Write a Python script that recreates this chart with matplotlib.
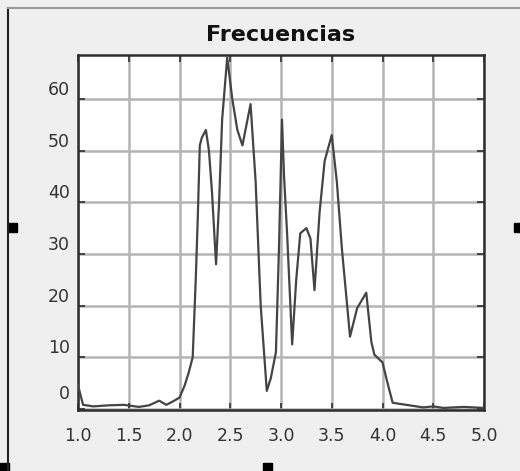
"""
Curva de frecuencias (estilo figura MATLAB) -> out.png
"""

import matplotlib

matplotlib.use("Agg")
import matplotlib.pyplot as plt
from matplotlib.patches import Rectangle
from matplotlib.lines import Line2D
from matplotlib.transforms import ScaledTranslation

# valores
x_vals = [1.00, 1.05, 1.15, 1.30, 1.45, 1.60, 1.70, 1.80, 1.87, 1.93,
          2.00, 2.05, 2.09, 2.13, 2.16, 2.18, 2.20, 2.22, 2.26, 2.29,
          2.32, 2.36, 2.39, 2.42, 2.47, 2.52, 2.57, 2.62, 2.70, 2.75,
          2.80, 2.86, 2.90, 2.95, 2.98, 3.01, 3.03, 3.06, 3.11, 3.15,
          3.19, 3.25, 3.29, 3.33, 3.38, 3.43, 3.50, 3.55, 3.60, 3.68,
          3.75, 3.84, 3.89, 3.92, 4.00, 4.05, 4.10, 4.20, 4.30, 4.40,
          4.50, 4.60, 4.70, 4.80, 5.00]
frecuencias = [4.6, 0.8, 0.5, 0.7, 0.8, 0.4, 0.7, 1.6, 0.8, 1.4,
               2.2, 4.5, 7.0, 10.0, 25.0, 37.0, 51.0, 52.5, 54.0, 50.0,
               42.0, 28.0, 40.0, 56.0, 68.0, 60.0, 54.0, 51.0, 59.0, 44.0,
               20.0, 3.5, 6.0, 11.0, 31.0, 56.0, 45.0, 34.0, 12.5, 25.0,
               34.0, 35.0, 33.0, 23.0, 38.0, 48.0, 53.0, 44.0, 31.0, 14.0,
               19.5, 22.5, 13.0, 10.5, 9.0, 5.0, 1.2, 0.9, 0.6, 0.3,
               0.5, 0.2, 0.3, 0.4, 0.2]

x_ticks = [1.0, 1.5, 2.0, 2.5, 3.0, 3.5, 4.0, 4.5, 5.0]
y_ticks = [0, 10, 20, 30, 40, 50, 60]
titulo = "Frecuencias"

W, H = 520, 471
fig = plt.figure(figsize=(W / 100, H / 100), dpi=100, facecolor="#efefef")
ax = fig.add_axes([78 / W, 1 - 410 / H, 406 / W, 355 / H])
ax.set_facecolor("white")

ax.plot(x_vals, frecuencias, color="#444444", linewidth=1.6, zorder=3)

ax.set_xlim(1.0, 5.0)
ax.set_ylim(-0.2, 68.5)
ax.set_xticks(x_ticks)
ax.set_xticklabels([f"{v:.1f}" for v in x_ticks])
ax.set_yticks(y_ticks)
ax.set_yticklabels([str(v) for v in y_ticks])

ax.grid(True, color="#b4b4b4", linewidth=1.8, linestyle="-", zorder=1)
ax.set_axisbelow(True)
for sp in ax.spines.values():
    sp.set_color("#2e2e2e")
    sp.set_linewidth(1.8)

ax.tick_params(axis="both", direction="in", length=5, width=1.2,
               color="#2e2e2e", labelcolor="#333333", labelsize=12.5,
               top=True, right=True)
ax.tick_params(axis="x", pad=12)
ax.tick_params(axis="y", pad=6)

# etiquetas del eje y quedan por encima de su marca
for lab in ax.get_yticklabels():
    lab.set_verticalalignment("bottom")
    if lab.get_text() == "0":
        lab.set_transform(lab.get_transform()
                          + ScaledTranslation(0, 4 / 72, fig.dpi_scale_trans))

ax.set_title(titulo, fontsize=16, fontweight="bold", color="#111111", pad=10)

# marco y marcas de selección de la figura
fig.add_artist(Line2D([8 / W, 8 / W], [0, 1 - 8 / H], transform=fig.transFigure,
                      color="#222222", linewidth=1.5))
fig.add_artist(Line2D([8 / W, 1], [1 - 8 / H, 1 - 8 / H], transform=fig.transFigure,
                      color="#9a9a9a", linewidth=1.5))
for (px, py) in [(8, 223), (514, 223), (263, 463), (0, 463)]:
    fig.add_artist(Rectangle((px / W, 1 - (py + 9) / H), 9 / W, 9 / H,
                             transform=fig.transFigure, color="black"))

fig.savefig("out.png", dpi=100, facecolor=fig.get_facecolor())
